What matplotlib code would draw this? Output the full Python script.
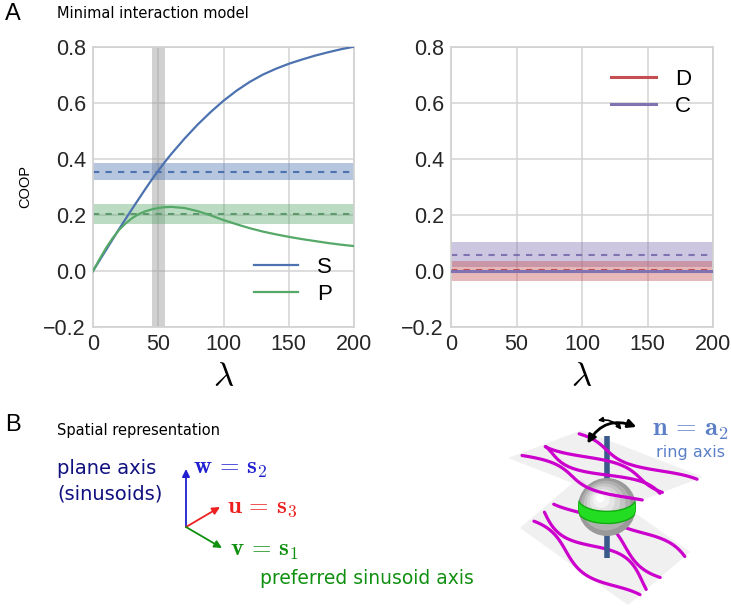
import numpy as np
import matplotlib
matplotlib.use('Agg')
import matplotlib.pyplot as plt
from matplotlib.patches import Polygon, Circle, FancyArrowPatch

plt.rcParams['font.family'] = ['Liberation Sans', 'DejaVu Sans']
plt.rcParams['mathtext.fontset'] = 'cm'

# --- panel A data ---
lam = [0, 5, 10, 15, 20, 25, 30, 35, 40, 45, 50, 55, 60, 70, 80, 90, 100,
       110, 120, 130, 140, 150, 160, 170, 180, 190, 200]
coop_S = [0.0, 0.0375, 0.075, 0.1125, 0.15, 0.186, 0.222, 0.257, 0.292, 0.326,
          0.358, 0.389, 0.418, 0.472, 0.522, 0.567, 0.608, 0.644, 0.675, 0.701,
          0.722, 0.74, 0.755, 0.769, 0.781, 0.792, 0.801]
coop_P = [0.0, 0.042, 0.082, 0.117, 0.147, 0.170, 0.189, 0.203, 0.213, 0.220,
          0.225, 0.228, 0.229, 0.225, 0.214, 0.199, 0.182, 0.167, 0.153,
          0.141, 0.131, 0.122, 0.114, 0.107, 0.10, 0.094, 0.089]

# measured levels (mean, low, high)
meas_S = [0.355, 0.325, 0.387]
meas_P = [0.204, 0.168, 0.239]
meas_D = [0.005, -0.034, 0.035]
meas_C = [0.058, 0.014, 0.102]

lam_flat = [0, 200]
coop_D = [0.0, 0.0]
coop_C = [0.0, 0.0]

lam_span = [45, 55]

xticks = [0, 50, 100, 150, 200]
yticks = [-0.2, 0.0, 0.2, 0.4, 0.6, 0.8]

blue, green, red, purple = '#4C72B0', '#55A868', '#C44E52', '#8172B2'
grid_c = '#d3d3d3'
txt_c = '#262626'

W, H = 731, 615
fig = plt.figure(figsize=(W / 100, H / 100), dpi=100)


def px_axes(l, t, r, b):
    return fig.add_axes([l / W, 1 - b / H, (r - l) / W, (b - t) / H])


def style(ax):
    ax.set_xlim(0, 200)
    ax.set_ylim(-0.2, 0.8)
    ax.set_xticks(xticks)
    ax.set_yticks(yticks)
    ax.set_yticklabels(['\u22120.2', '0.0', '0.2', '0.4', '0.6', '0.8'])
    ax.grid(True, color=grid_c, lw=1.1)
    ax.set_axisbelow(True)
    for s in ax.spines.values():
        s.set_color(grid_c)
        s.set_linewidth(1.3)
    ax.tick_params(length=0, labelsize=15.5, colors=txt_c, pad=5)
    ax.set_xlabel(r'$\lambda$', fontsize=25, color='k', labelpad=4)


def band(ax, m, c, dash_c):
    ax.axhspan(m[1], m[2], color=c, alpha=0.4, lw=0, zorder=1)
    ax.axhline(m[0], color=dash_c, ls=(0, (3, 3)), lw=1.5, zorder=2)


leg_kw = dict(fontsize=16, frameon=False, handlelength=2.0, handletextpad=0.85,
              labelspacing=0.25, borderaxespad=0.6)

axL = px_axes(93, 47, 354, 327)
style(axL)
axL.axvspan(lam_span[0], lam_span[1], color='#999999', alpha=0.45, lw=0, zorder=1)
band(axL, meas_S, blue, blue)
band(axL, meas_P, green, '#5f9a6f')
axL.plot(lam, coop_S, color=blue, lw=1.6, label='S', zorder=3)
axL.plot(lam, coop_P, color=green, lw=1.6, label='P', zorder=3)
axL.set_ylabel('COOP', fontsize=10.5, color='k', labelpad=8)
axL.legend(loc='lower right', **leg_kw)

axR = px_axes(451, 47, 713, 327)
style(axR)
band(axR, meas_C, purple, purple)
band(axR, meas_D, red, red)
axR.plot(lam_flat, coop_D, color=red, lw=2.2, label='D', zorder=3)
axR.plot(lam_flat, coop_C, color=purple, lw=2.2, label='C', zorder=3)
axR.legend(loc='upper right', **leg_kw)

# titles / panel letters
fig.text(5 / W, 1 - 14 / H, 'A', fontsize=17, va='center', ha='left')
fig.text(57 / W, 1 - 14 / H, 'Minimal interaction model', fontsize=10.5,
         family='DejaVu Sans', va='center', ha='left')
fig.text(5 / W, 1 - 425 / H, 'B', fontsize=17, va='center', ha='left')
fig.text(57 / W, 1 - 431 / H, 'Spatial representation', fontsize=10.5,
         family='DejaVu Sans', va='center', ha='left')

# --- panel B: drawing in pixel coordinates ---
axB = fig.add_axes([0, 0, 1, 1])
axB.set_xlim(0, W)
axB.set_ylim(H, 0)
axB.axis('off')
axB.patch.set_visible(False)

navy, wblue, ured, vgreen = '#101080', '#2020d0', '#ee2020', '#109010'
axB.text(57, 469, 'plane axis', color=navy, fontsize=14, family='DejaVu Sans', va='center')
axB.text(57, 494, '(sinusoids)', color=navy, fontsize=14, family='DejaVu Sans', va='center')

origin = (186, 527)
arrow_ends = [(186, 469), (220, 507), (222, 548)]
arrow_cols = [wblue, ured, vgreen]
for end, c in zip(arrow_ends, arrow_cols):
    axB.annotate('', xy=end, xytext=origin,
                 arrowprops=dict(arrowstyle='-|>', color=c, lw=1.3,
                                 mutation_scale=11, shrinkA=0, shrinkB=0))
axB.text(193, 468, r'$\mathbf{w}\,=\,\mathbf{s}_2$', color=wblue, fontsize=18, va='center')
axB.text(227, 507, r'$\mathbf{u}\,=\,\mathbf{s}_3$', color=ured, fontsize=18, va='center')
axB.text(230, 550, r'$\mathbf{v}\,=\,\mathbf{s}_1$', color=vgreen, fontsize=18, va='center')
axB.text(260, 579, 'preferred sinusoid axis', color=vgreen, fontsize=13.5,
         family='DejaVu Sans', va='center')

# planes: left corner, top corner, right corner, bottom corner
plane_top = [(508, 458), (582, 430), (703, 477), (629, 505)]
plane_bot = [(520, 528), (582, 475), (690, 552), (628, 605)]
# sinusoid parameters per plane: (v0, amplitude, phase)
waves_top = [(0.12, 0.10, 0.0), (0.38, 0.12, 2.2), (0.55, 0.10, 4.2), (0.82, 0.10, 1.0)]
waves_bot = [(0.10, 0.10, 0.6), (0.35, 0.12, 3.0), (0.58, 0.10, 5.0), (0.85, 0.10, 1.8)]
mag = '#cc00cc'


def plane_curves(corners, waves, z):
    L, T, R, _ = [np.array(p, float) for p in corners]
    e1, e2 = T - L, R - T
    u = np.linspace(0.03, 1.0, 80)
    for v0, a, ph in waves:
        v = v0 + a * np.sin(2 * np.pi * 1.1 * u + ph)
        pts = L + np.outer(u, e2) + np.outer(v, e1)
        axB.plot(pts[:, 0], pts[:, 1], color=mag, lw=2.3, solid_capstyle='round', zorder=z)


rod_c = '#3b5a8c'
axB.add_patch(Polygon(plane_bot, closed=True, fc='#f0f0f0', ec='none', zorder=1))
plane_curves(plane_bot, waves_bot, 2)
axB.plot([607, 607], [505, 558], color=rod_c, lw=4, zorder=2.5, solid_capstyle='butt')
axB.add_patch(Polygon(plane_top, closed=True, fc='#f0f0f0', ec='none', alpha=0.95, zorder=3))
axB.plot([607, 607], [436, 500], color=rod_c, lw=4, zorder=3.5, solid_capstyle='butt')

# sphere
cx, cy, r = 607, 507, 29
shade = ['#9a9a9a', '#b0b0b0', '#c4c4c4', '#d6d6d6', '#e6e6e6', '#f3f3f3', '#ffffff']
for i, c in enumerate(shade):
    f = 1 - i / len(shade)
    axB.add_patch(Circle((cx - (1 - f) * 8, cy - (1 - f) * 10), r * f, fc=c, ec='none', zorder=4))
clip = Circle((cx, cy), r, transform=axB.transData, fc='none', ec='none')
axB.add_patch(clip)
dx = np.linspace(-r, r, 60)
s = np.sqrt(1 - (dx / r) ** 2)
top_edge = cy + r * (-0.30 + 0.45 * s)
bot_edge = cy + r * (0.12 + 0.45 * s)
band_pts = np.vstack([np.column_stack([cx + dx, top_edge]),
                      np.column_stack([cx + dx[::-1], bot_edge[::-1]])])
gb = Polygon(band_pts, closed=True, fc='#22dd22', ec='#11aa11', lw=1, zorder=4.5)
axB.add_patch(gb)
gb.set_clip_path(clip)
plane_curves(plane_top, waves_top, 5)

# rotation arrows
axB.add_patch(FancyArrowPatch((586, 446), (639, 428), connectionstyle='arc3,rad=-0.45',
                              arrowstyle='<|-|>', mutation_scale=12, lw=2, color='k', zorder=6))
axB.add_patch(FancyArrowPatch((595, 421), (623, 432), connectionstyle='arc3,rad=-0.35',
                              arrowstyle='<|-|>', mutation_scale=7, lw=1.2, color='k', zorder=6))

ncol = '#5b80c8'
axB.text(652, 430, r'$\mathbf{n}\,=\,\mathbf{a}_2$', color=ncol, fontsize=19, va='center')
axB.text(656, 453, 'ring axis', color=ncol, fontsize=11.5, family='DejaVu Sans', va='center')

fig.savefig('out.png', dpi=100)
